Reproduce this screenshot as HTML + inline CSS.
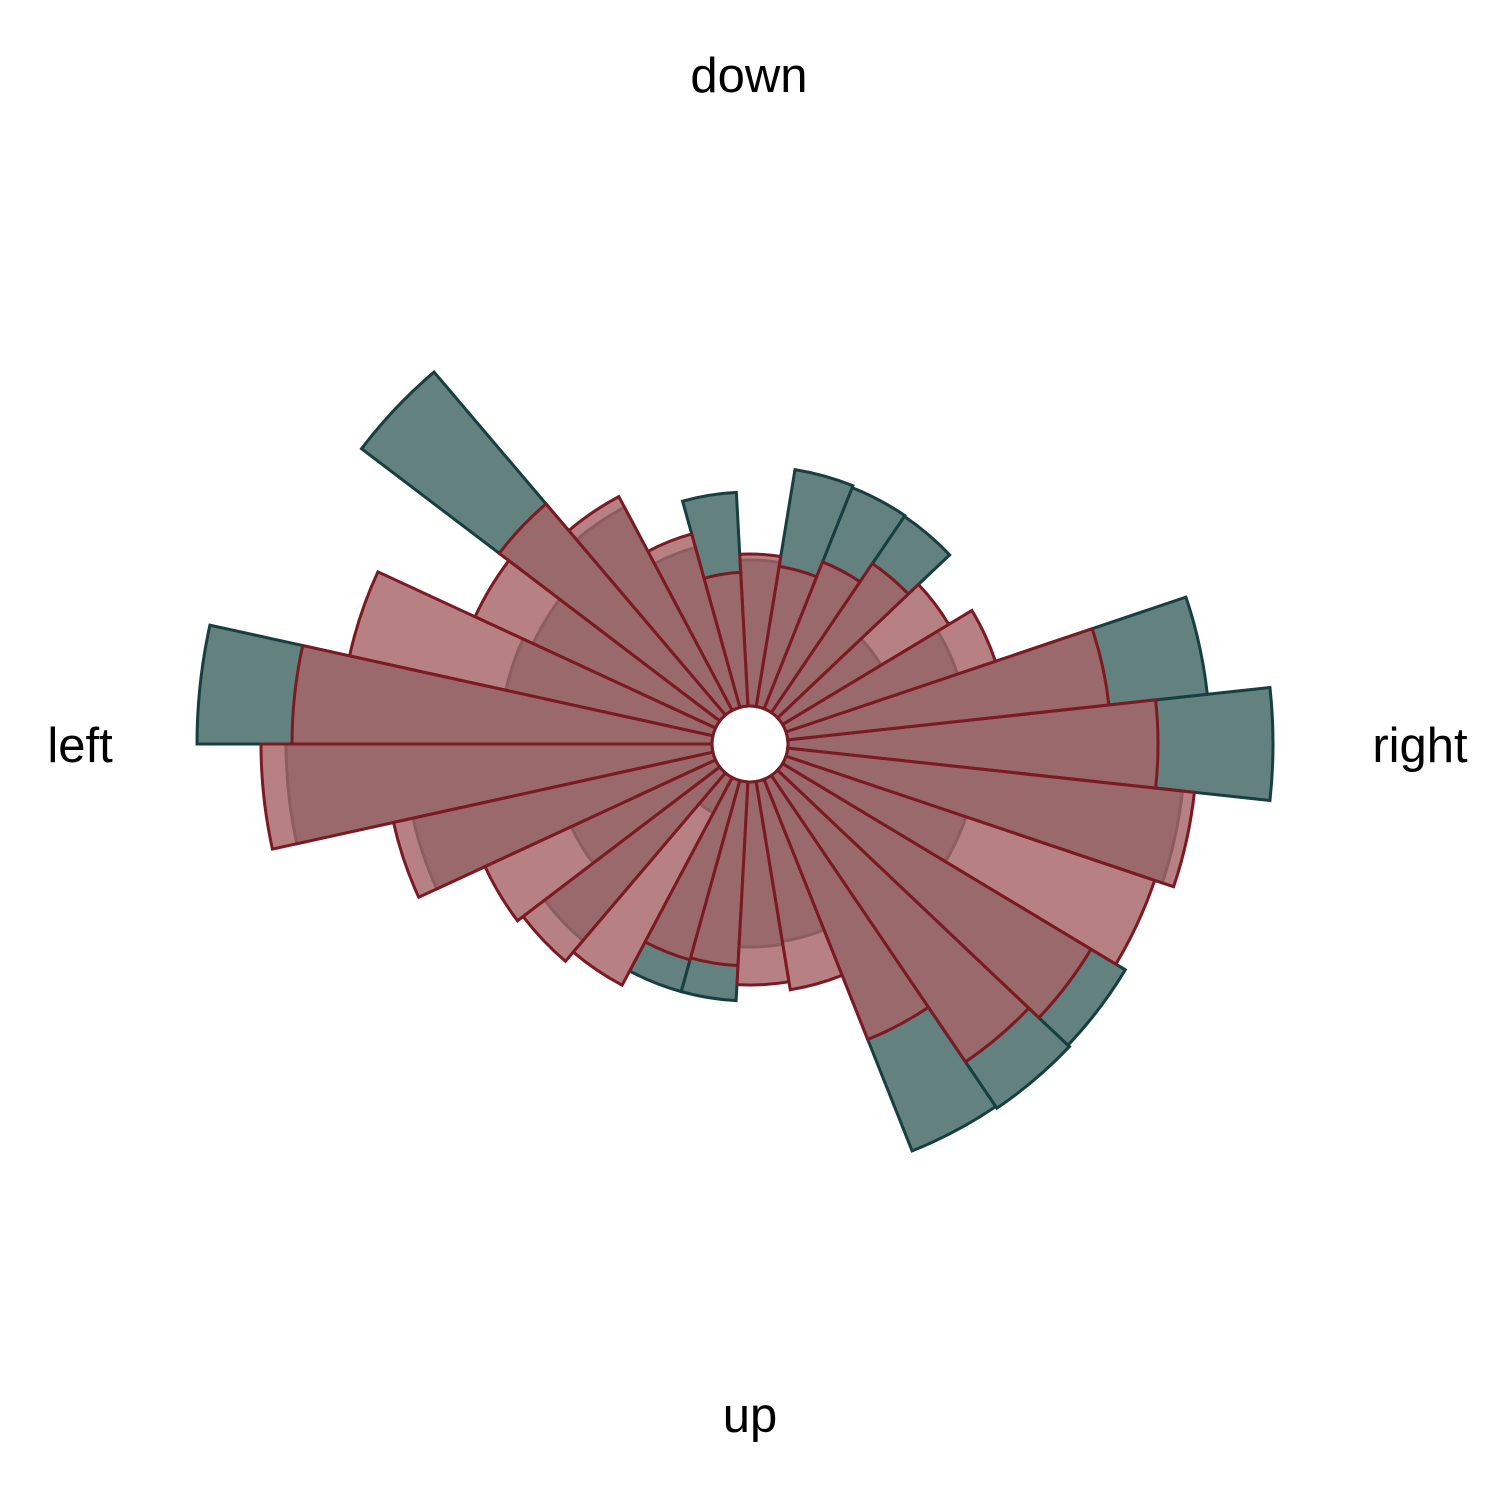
<!DOCTYPE html>
<html><head><meta charset="utf-8"><style>
html,body{margin:0;padding:0;background:#fff;}
svg{display:block;}
text{font-family:"Liberation Sans",Arial,sans-serif;font-size:49px;fill:#000;}
</style></head><body>
<svg id="chart" width="1500" height="1500" viewBox="0 0 1500 1500" xmlns="http://www.w3.org/2000/svg">
<rect width="1500" height="1500" fill="#fff"/>
<g id="bars-teal"></g>
<g id="bars-red"></g>
<text x="749" y="92" text-anchor="middle">down</text>
<text x="1420" y="762" text-anchor="middle">right</text>
<text x="80" y="762" text-anchor="middle">left</text>
<text x="750" y="1432" text-anchor="middle">up</text>
</svg>
<script>
// bin index k -> center angle k*360/29 (deg, counter-clockwise from "right")
const binIndex = [0,1,2,3,4,5,6,7,8,9,10,11,12,13,14,15,16,17,18,19,20,21,22,23,24,25,26,27,28];
const tealValues = [48.5,42.2,18.1,11.5,23.7,23.8,24.0,14.6,21.4,16.6,23.0,45.0,20.1,21.2,51.5,42.6,30.7,15.9,22.0,4.0,21.9,21.9,16.5,16.2,40.0,40.2,40.0,19.0,39.7];
const redValues = [37.0,32.3,22.1,19.4,18.0,15.8,14.2,15.2,13.4,18.0,24.2,27.7,26.5,37.2,42.0,45.1,32.7,25.4,24.7,23.5,18.6,18.4,20.3,21.1,28.0,34.6,36.0,38.9,40.9];

const CX = 750, CY = 744, R0 = 38, PX_PER_UNIT = 10, NBINS = 29;
const BW = 360 / NBINS;
function rScale(v){ return R0 + v * PX_PER_UNIT; }
function aScale(k){ return k * BW; }
function pt(r, deg){ const a = deg*Math.PI/180; return [CX + r*Math.cos(a), CY - r*Math.sin(a)]; }
function wedge(k, v){
  const c = aScale(k), a0 = c - BW/2, a1 = c + BW/2, r = rScale(v);
  const p0 = pt(R0,a0), p1 = pt(r,a0), p2 = pt(r,a1), p3 = pt(R0,a1);
  return `M${p0[0]},${p0[1]} L${p1[0]},${p1[1]} A${r},${r} 0 0 0 ${p2[0]},${p2[1]} L${p3[0]},${p3[1]} A${R0},${R0} 0 0 1 ${p0[0]},${p0[1]} Z`;
}
const NS = "http://www.w3.org/2000/svg";
const gT = document.getElementById('bars-teal');
const gR = document.getElementById('bars-red');
binIndex.forEach((k,i)=>{
  const p = document.createElementNS(NS,'path');
  p.setAttribute('d', wedge(k, tealValues[i]));
  p.setAttribute('fill', '#62817f');
  p.setAttribute('stroke', '#173f3f');
  p.setAttribute('stroke-width', '3');
  p.setAttribute('stroke-linejoin', 'miter');
  
  
  gT.appendChild(p);
});
binIndex.forEach((k,i)=>{
  const p = document.createElementNS(NS,'path');
  p.setAttribute('d', wedge(k, redValues[i]));
  p.setAttribute('fill', 'rgba(166,100,102,0.81)');
  p.setAttribute('stroke', '#7b1a22');
  p.setAttribute('stroke-width', '3');
  p.setAttribute('stroke-linejoin', 'miter');
  
  
  gR.appendChild(p);
});
</script>
</body></html>
